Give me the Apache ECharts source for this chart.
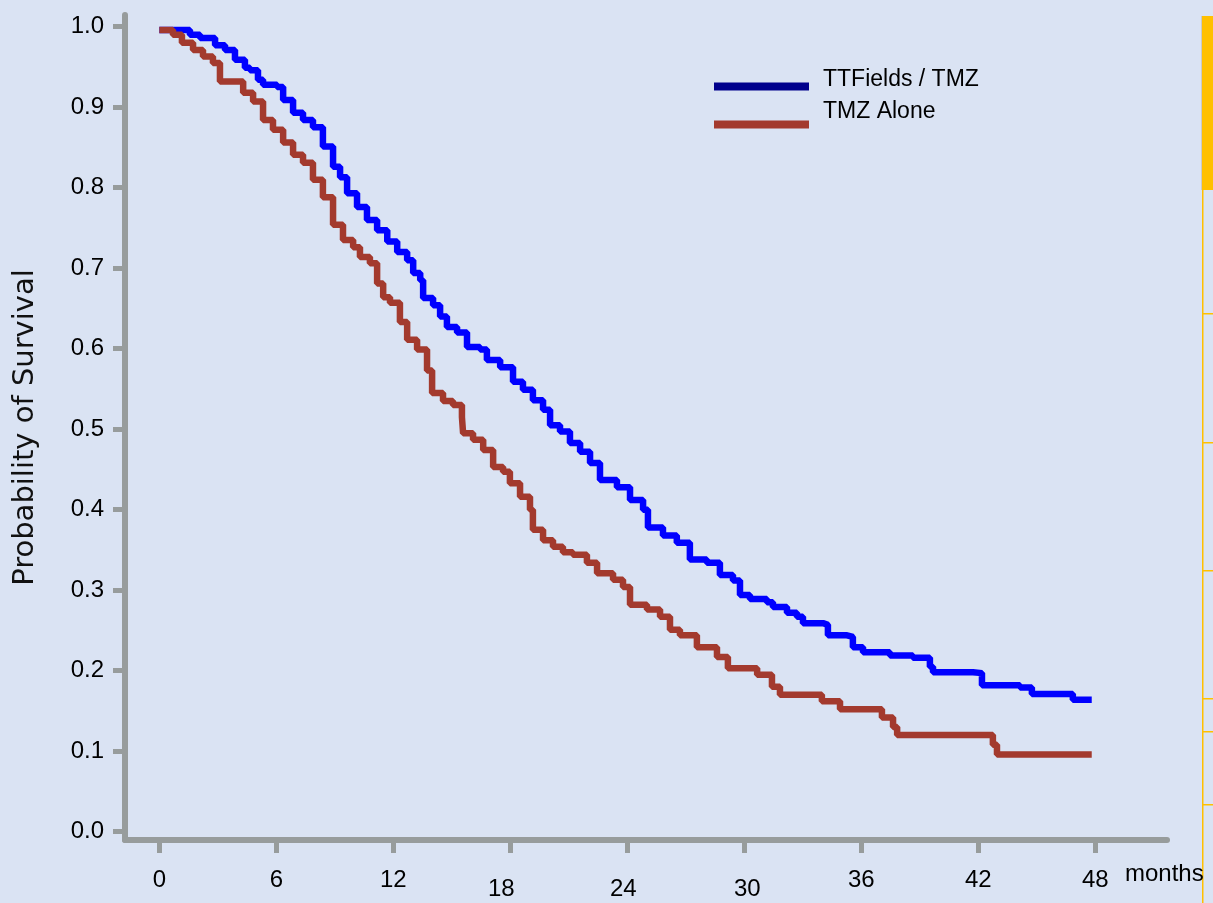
<!DOCTYPE html>
<html>
<head>
<meta charset="utf-8">
<title>Probability of Survival</title>
<script src="https://cdn.jsdelivr.net/npm/echarts@6/dist/echarts.min.js"></script>
<style>
  html, body { margin: 0; padding: 0; background: #dae3f3; }
  #chart { width: 1213px; height: 903px; }
</style>
</head>
<body>
<div id="chart"></div>
<script>
// x tick values (months) and y tick values
const monthTicks = [0, 6, 12, 18, 24, 30, 36, 42, 48]
const probTicks = [0, 0.1, 0.2, 0.3, 0.4, 0.5, 0.6, 0.7, 0.8, 0.9, 1.0]

// TTFields / TMZ - step points
const ttfMonths = [0, 1.57, 2.09, 2.86, 3.37, 3.88, 4.39, 4.65, 5.06, 5.32, 6.04, 6.35, 6.86, 7.37, 7.88,
  8.39, 8.91, 9.27, 9.63, 10.14, 10.65, 11.17, 11.69, 12.2, 12.71, 13.02, 13.38, 13.53, 14.04, 14.4,
  14.75, 15.27, 15.78, 16.45, 16.8, 17.48, 18.14, 18.65, 19.16, 19.68, 20.04, 20.55, 21.06, 21.58,
  22.09, 22.6, 23.47, 24.14, 24.81, 25.06, 25.83, 26.54, 27.21, 28.08, 28.75, 29.42, 29.78, 30.29,
  31.16, 31.47, 32.19, 32.7, 33.01, 34.04, 34.29, 35.27, 35.57, 36.09, 37.47, 38.65, 39.52, 39.68,
  41.73, 42.19, 44.14, 44.75, 46.85, 47.82]
const ttfSurvival = [0.996, 0.99, 0.986, 0.977, 0.971, 0.959, 0.949, 0.946, 0.934, 0.928, 0.925, 0.909,
  0.893, 0.884, 0.875, 0.851, 0.826, 0.813, 0.793, 0.776, 0.76, 0.747, 0.733, 0.72, 0.71, 0.694, 0.685,
  0.663, 0.654, 0.64, 0.627, 0.62, 0.602, 0.599, 0.586, 0.577, 0.559, 0.549, 0.536, 0.524, 0.505, 0.497,
  0.483, 0.472, 0.458, 0.437, 0.428, 0.412, 0.4, 0.378, 0.368, 0.359, 0.338, 0.334, 0.319, 0.312, 0.294,
  0.289, 0.285, 0.279, 0.272, 0.267, 0.259, 0.257, 0.244, 0.242, 0.229, 0.223, 0.219, 0.216, 0.205,
  0.198, 0.197, 0.182, 0.179, 0.171, 0.164, 0.164]

// TMZ Alone
const tmzMonths = [0, 0.7, 1.16, 1.73, 2.24, 2.75, 3.11, 4.3, 4.81, 5.32, 5.83, 6.35, 6.86, 7.37, 7.88,
  8.39, 8.91, 9.42, 9.94, 10.29, 10.8, 11.17, 11.48, 11.83, 12.34, 12.71, 13.22, 13.73, 13.99, 14.55,
  15.06, 15.52, 15.58, 16.09, 16.61, 17.12, 17.63, 17.98, 18.5, 19.01, 19.16, 19.68, 20.19, 20.7, 21.21,
  21.93, 22.45, 23.27, 23.78, 24.14, 25.01, 25.68, 26.19, 26.7, 27.57, 28.6, 29.16, 30.66, 31.42, 31.83,
  33.98, 34.91, 37.06, 37.63, 37.84, 42.75, 42.96, 47.82]
const tmzSurvival = [0.996, 0.99, 0.98, 0.971, 0.963, 0.955, 0.932, 0.918, 0.907, 0.884, 0.872, 0.856,
  0.841, 0.831, 0.81, 0.788, 0.754, 0.735, 0.726, 0.714, 0.706, 0.681, 0.664, 0.657, 0.633, 0.611, 0.599,
  0.573, 0.545, 0.535, 0.53, 0.515, 0.495, 0.487, 0.474, 0.453, 0.447, 0.433, 0.416, 0.4, 0.375, 0.362,
  0.354, 0.347, 0.344, 0.334, 0.321, 0.313, 0.304, 0.282, 0.276, 0.267, 0.251, 0.244, 0.229, 0.217, 0.203,
  0.195, 0.18, 0.17, 0.162, 0.152, 0.142, 0.13, 0.12, 0.108, 0.096, 0.096]

const seriesNames = ['TTFields / TMZ', 'TMZ Alone']

const pair = (xs, ys) => xs.map((x, i) => [x, ys[i]])

const axisGray = '#979c9c'
const font = 'Liberation Sans'

// labels 18/24/30 sit a bit lower and off-centre in the original
const xLabelRich = {
  n: { fontSize: 24, fontFamily: font, color: '#000' },
  a18: { fontSize: 24, fontFamily: font, color: '#000', padding: [9, 18, 0, 0] },
  a24: { fontSize: 24, fontFamily: font, color: '#000', padding: [9, 8, 0, 0] },
  a30: { fontSize: 24, fontFamily: font, color: '#000', padding: [9, 0, 0, 6] }
}

// one legend box per series so each can be placed like the original
function legendBox (name, color, top, lift) {
  return {
    orient: 'vertical',
    left: 714,
    top: top,
    padding: 0,
    itemWidth: 95,
    itemHeight: 8,
    icon: 'rect',
    selectedMode: false,
    formatter: n => '{t|' + n + '}',
    textStyle: {
      rich: {
        t: { fontFamily: font, fontSize: 23, color: '#000', lineHeight: 26, padding: [0, 0, lift, 9] }
      }
    },
    data: [{ name: name, itemStyle: { color: color } }]
  }
}

const chart = echarts.init(document.getElementById('chart'))
chart.setOption({
  backgroundColor: '#dae3f3',
  animation: false,
  grid: { left: 125, right: 46, top: 15, bottom: 63, outerBoundsMode: 'none' },
  legend: [
    legendBox(seriesNames[0], '#00008c', 68, 14),
    legendBox(seriesNames[1], '#a33a2e', 100, 26)
  ],
  xAxis: {
    type: 'value',
    min: -1.76,
    max: 51.68,
    name: 'months',
    nameLocation: 'end',
    nameGap: -42,
    nameTextStyle: { fontFamily: font, fontSize: 24, color: '#000', verticalAlign: 'top', padding: [22, 0, 0, 0] },
    axisLine: { onZero: false, lineStyle: { color: axisGray, width: 6 } },
    axisTick: { customValues: monthTicks, length: 13, lineStyle: { color: axisGray, width: 5 } },
    axisLabel: {
      customValues: monthTicks,
      margin: 28,
      rich: xLabelRich,
      formatter: v => {
        if (v === 18 || v === 24 || v === 30) return '{a' + v + '|' + v + '}'
        return '{n|' + v + '}'
      }
    },
    splitLine: { show: false }
  },
  yAxis: {
    type: 'value',
    min: -0.0103,
    max: 1.0145,
    name: 'Probability of Survival',
    nameLocation: 'middle',
    nameGap: 85,
    nameTextStyle: { fontFamily: 'DejaVu Sans', fontSize: 29, color: '#111' },
    axisLine: { show: true, onZero: false, lineStyle: { color: axisGray, width: 6 } },
    axisTick: { show: true, customValues: probTicks, length: 12, lineStyle: { color: axisGray, width: 5 } },
    axisLabel: {
      customValues: probTicks,
      margin: 21,
      fontFamily: font,
      fontSize: 24,
      color: '#000',
      formatter: v => v.toFixed(1)
    },
    splitLine: { show: false }
  },
  series: [
    {
      name: seriesNames[0],
      type: 'line',
      step: 'end',
      showSymbol: false,
      data: pair(ttfMonths, ttfSurvival),
      lineStyle: { color: '#0000ff', width: 6.5 },
      itemStyle: { color: '#0000ff' }
    },
    {
      name: seriesNames[1],
      type: 'line',
      step: 'end',
      showSymbol: false,
      data: pair(tmzMonths, tmzSurvival),
      lineStyle: { color: '#a33a2e', width: 6.5 },
      itemStyle: { color: '#a33a2e' }
    }
  ],
  // slide edge decoration on the right
  graphic: [
    { type: 'rect', shape: { x: 1201, y: 16, width: 1, height: 174 }, style: { fill: '#c9c9c9' } },
    { type: 'rect', shape: { x: 1202, y: 16, width: 11, height: 174 }, style: { fill: '#ffc000' } },
    { type: 'rect', shape: { x: 1202, y: 190, width: 1.5, height: 713 }, style: { fill: '#ffc000' } },
    { type: 'rect', shape: { x: 1203, y: 313, width: 10, height: 1.5 }, style: { fill: '#ffc000' } },
    { type: 'rect', shape: { x: 1203, y: 442, width: 10, height: 1.5 }, style: { fill: '#ffc000' } },
    { type: 'rect', shape: { x: 1203, y: 570, width: 10, height: 1.5 }, style: { fill: '#ffc000' } },
    { type: 'rect', shape: { x: 1203, y: 698, width: 10, height: 1.5 }, style: { fill: '#ffc000' } },
    { type: 'rect', shape: { x: 1203, y: 731, width: 10, height: 1.5 }, style: { fill: '#ffc000' } },
    { type: 'rect', shape: { x: 1203, y: 804, width: 10, height: 1.5 }, style: { fill: '#ffc000' } }
  ]
})
</script>
</body>
</html>
